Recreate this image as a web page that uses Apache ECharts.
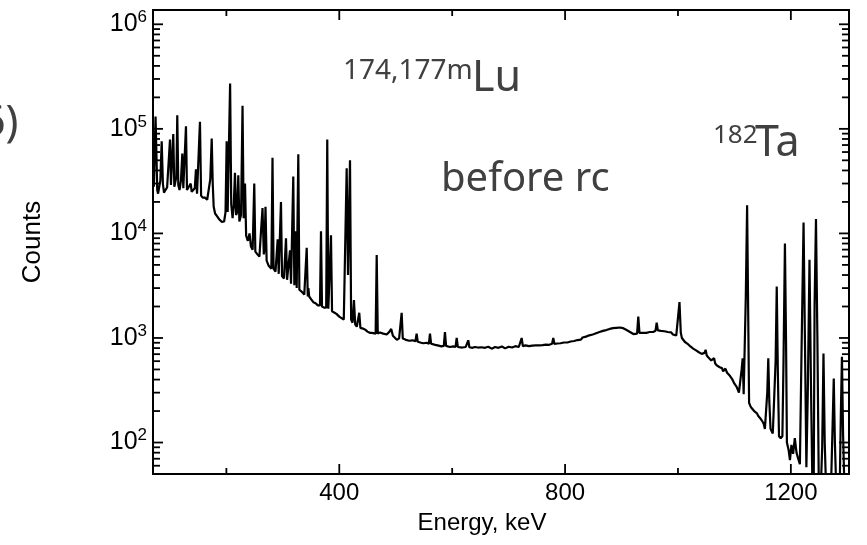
<!DOCTYPE html>
<html>
<head>
    <meta charset="utf-8">
    <title>Spectrum before rc</title>
    <script src="https://cdn.jsdelivr.net/npm/echarts@6/dist/echarts.min.js"></script>
</head>
<body style="margin:0">
<div id="main" style="width: 867px;height:545px;"></div>
<script type="text/javascript">
    // spectrum, [energy keV, counts]
    var lowRegion = [
        [70, 3.2e4], [71.5, 2.8e4], [73, 6e4], [74.5, 1.31e5], [76, 6e4], [77.5, 2.6e4], [79, 2.4e4],
        [81, 2.35e4], [83, 3.2e4], [85.4, 7.6e4], [87.5, 3.0e4], [89.5, 2.45e4], [92, 2.6e4], [95, 2.75e4],
        [98, 2.65e4], [100.1, 7.9e4], [101.8, 2.9e4], [104, 2.8e4], [105.9, 8.9e4], [107.8, 2.8e4],
        [110, 2.7e4], [111.5, 3.5e4], [113, 1.35e5], [114.8, 2.9e4], [117, 2.6e4], [119.5, 3.2e4],
        [121.9, 5.8e4], [123.7, 2.7e4], [126.5, 2.7e4], [128.4, 1.06e5], [130.2, 2.6e4], [133, 2.6e4],
        [136.8, 3.0e4], [138.6, 2.5e4], [141, 2.4e4], [144, 2.7e4], [146.1, 4.1e4], [148, 2.4e4],
        [151, 2.35e4], [153.2, 1.17e5], [155.2, 2.3e4], [158, 2.2e4], [162, 2.2e4], [166, 2.1e4],
        [169, 2.1e4], [171.5, 3.3e4], [174, 8.1e4], [175.8, 3.0e4], [177.5, 1.8e4], [180, 1.55e4],
        [184, 1.45e4], [188, 1.35e4], [192, 1.29e4], [196, 1.3e4], [198.5, 1.6e4], [200.5, 7.6e4],
        [202.3, 1.6e4], [204.5, 1.6e4], [206.6, 2.72e5], [208.6, 1.9e4], [211, 1.4e4], [213, 1.8e4],
        [215.2, 3.8e4], [217.2, 1.5e4], [219.2, 1.6e4], [221.1, 3.6e4], [223, 1.3e4], [226, 1.5e4],
        [228.6, 1.66e5], [230.6, 1.4e4], [233, 3.0e4], [235, 9.5e3], [238, 8.5e3], [241, 1.0e4],
        [243.5, 7.5e3], [246.5, 7.0e3], [249.4, 3.0e4], [251.3, 6.7e3], [255, 6.3e3], [258.5, 6.0e3]
    ];
    var midRegion = [
        [262, 6.0e3], [264, 1.75e4], [266.3, 6.3e3], [267.5, 7e3], [269.3, 1.8e4], [271.3, 5.5e3],
        [275, 4.9e3], [279.7, 4.6e3], [281.7, 5.3e4], [283.6, 4.6e3], [287, 4.3e3], [289, 4.4e3],
        [290.9, 8.8e3], [292.7, 4.1e3], [294.8, 4.1e3], [296.7, 2.0e4], [298.6, 3.9e3], [302, 3.7e3],
        [303.8, 3.8e3], [305.6, 9.0e3], [307.5, 3.6e3], [310.8, 3.5e3], [312.7, 6.9e3], [314.5, 3.3e3],
        [316.7, 3.3e3], [318.5, 3.5e4], [320.4, 3.2e3], [321.2, 3.2e3], [322.8, 1.05e4], [324.6, 3.0e3],
        [325.6, 3.0e3], [327.4, 5.7e4], [329.3, 2.9e3], [334, 2.75e3], [338, 2.6e3], [340.4, 2.6e3],
        [342.3, 7.3e3], [344.2, 2.5e3], [345.3, 3.0e3], [346.6, 2.5e3], [350, 2.35e3], [354, 2.2e3],
        [358, 2.15e3], [362, 2.05e3], [365.8, 2.05e3], [367.6, 1.05e4], [369.4, 2.0e3], [373, 1.95e3],
        [376.8, 1.95e3], [378.7, 7.9e4], [380.6, 1.9e3], [383.5, 1.85e3], [385.3, 9.6e3], [387.2, 1.8e3],
        [391, 1.75e3], [395, 1.7e3], [400, 1.6e3], [404, 1.55e3], [408, 1.5e3], [411.2, 1.5e3],
        [413.1, 4.2e4], [415.5, 4e3], [416.8, 4e3], [419, 5.0e4], [421, 1.5e3], [423.5, 1.4e3],
        [426, 2.3e3], [428.2, 1.35e3], [431, 1.28e3], [433.4, 1.3e3], [435.4, 1.74e3], [437.4, 1.25e3],
        [442, 1.23e3], [446, 1.2e3], [450, 1.15e3], [454, 1.12e3], [458, 1.12e3], [464.4, 1.1e3],
        [466.3, 6.2e3], [468.2, 1.1e3], [472, 1.13e3], [478, 1.1e3], [484, 1.08e3], [489, 1.15e3],
        [492, 1.22e3], [495, 1.05e3], [502, 960], [506, 990], [508.5, 1.0e3], [510.5, 1.74e3],
        [512.5, 990], [518, 960], [524, 940], [530, 950], [535, 930], [537, 1.1e3], [539, 920],
        [545, 900], [549, 890], [555, 900], [558.7, 880], [560.7, 1.1e3], [562.7, 880], [570, 860],
        [576, 845], [581, 830], [585.2, 840], [587.2, 1.14e3], [589.2, 840], [596, 820], [602, 830],
        [606, 820], [608, 1.0e3], [610, 820], [618, 810], [624, 820], [626.5, 815], [628.5, 950],
        [630.5, 815], [636, 805]
    ];
    var flatRegion = [
        [640, 820], [643, 795], [646, 810], [649, 785], [652, 815], [655, 795], [658, 805], [661, 785],
        [664, 825], [667, 800], [670, 790], [673, 815], [676, 820], [679, 790], [682, 805], [685, 780],
        [688, 830], [691, 805], [694, 795], [697, 820], [700, 825], [703, 800], [706, 810], [709, 830],
        [712, 835], [715, 810], [718, 820], [721, 840], [723.1, 1.0e3], [725.2, 835], [728, 815],
        [730, 850], [733, 825], [736, 835], [739, 860], [742, 845], [745, 830], [748, 850], [751, 870],
        [754, 850], [757, 875], [760, 855], [763, 880], [766, 865], [769, 890], [772, 860], [775, 885],
        [777, 880], [779.1, 1.0e3], [781.2, 875], [784, 905], [786, 885], [789, 910], [792, 890],
        [795, 920], [798, 905], [801, 935], [804, 905], [807, 945], [810, 925], [813, 960], [816, 935],
        [819, 975], [822, 955], [825, 990], [828, 965], [831, 1.01e3], [834, 985], [837, 1.03e3],
        [840, 1.0e3], [843, 1.06e3], [846, 1.04e3], [849, 1.08e3], [852, 1.06e3], [855, 1.11e3],
        [858, 1.09e3], [861, 1.14e3], [864, 1.11e3], [867, 1.17e3], [870, 1.15e3], [873, 1.19e3],
        [876, 1.17e3], [879, 1.22e3], [882, 1.2e3], [885, 1.24e3], [888, 1.21e3], [891, 1.25e3],
        [894, 1.23e3], [897, 1.26e3], [900, 1.22e3], [903, 1.24e3], [906, 1.2e3], [909, 1.19e3],
        [912, 1.16e3], [915, 1.14e3], [918, 1.12e3], [921, 1.09e3], [924, 1.11e3], [927.6, 1.1e3],
        [929.7, 1.6e3], [931.8, 1.12e3], [935, 1.15e3], [938, 1.12e3], [941, 1.16e3], [944, 1.12e3],
        [947, 1.17e3], [950, 1.14e3], [953, 1.18e3], [956, 1.14e3], [960.2, 1.17e3], [962.3, 1.4e3],
        [964.4, 1.18e3], [967, 1.14e3], [970, 1.17e3], [973, 1.13e3], [976, 1.16e3], [979, 1.12e3],
        [982, 1.14e3], [985, 1.1e3], [988, 1.13e3], [991, 1.08e3], [994, 1.1e3], [997, 1.06e3],
        [999.5, 1.1e3], [1002.7, 2.2e3], [1005, 1.12e3], [1007, 1.0e3], [1009, 960], [1012, 920],
        [1014, 900], [1017, 880], [1019, 860], [1022, 830], [1024, 800], [1027, 790], [1029, 760],
        [1032, 760], [1034, 735], [1037, 730], [1039, 710], [1042, 705], [1044, 680], [1047, 720],
        [1049, 770], [1051, 680], [1054, 650], [1056, 630], [1059, 610], [1061, 600], [1064, 640],
        [1066, 570], [1069, 545], [1071, 530], [1074, 525], [1076, 505], [1078, 515], [1080, 480],
        [1082, 500], [1084, 510], [1087, 465], [1090, 450], [1092, 435], [1094, 420], [1096, 405],
        [1098, 390], [1100, 365], [1102, 355], [1104, 340], [1106, 320], [1108, 300], [1111, 290]
    ];
    var taRegion = [
        [1112.8, 500], [1114.6, 640], [1116.4, 290], [1118.5, 280], [1120.2, 2500], [1122.5, 1.86e4],
        [1124.3, 2000], [1126, 240], [1128, 225], [1130, 215], [1133, 220], [1135, 200], [1138, 195],
        [1140, 190], [1142, 180], [1144, 185], [1146, 170], [1148, 172], [1150, 158], [1152, 150],
        [1154, 135], [1156.5, 130], [1158.2, 300], [1160, 640], [1161.8, 250], [1164, 135],
        [1166, 128], [1168, 122], [1171, 120], [1173, 600], [1175, 3100], [1177, 450], [1179, 115],
        [1182, 110], [1185, 115], [1187, 600], [1189.5, 8000], [1191.5, 900], [1193, 100], [1196, 85],
        [1198.4, 68], [1201, 95], [1204, 78], [1207, 110], [1210, 80], [1213, 70], [1216, 62], [1219, 800],
        [1222.5, 1.27e4], [1225, 900], [1227.5, 58], [1230, 300], [1233, 5600], [1235.5, 400],
        [1238, 45], [1240.5, 40], [1242, 2000], [1244.5, 1.37e4], [1247, 1000], [1249.5, 40],
        [1253, 35], [1255.5, 90], [1257.8, 710], [1260, 100], [1262.5, 35], [1271, 35], [1274, 150],
        [1276, 410], [1278, 100], [1280.5, 35], [1286.5, 35], [1288.5, 180], [1290.5, 660],
        [1292.5, 120], [1295, 35], [1303, 35]
    ];
    var spectrum = lowRegion.concat(midRegion, flatRegion, taRegion);

    var xMin = 70, xMax = 1303;
    var yMin = 50, yMax = 1.37e6;
    var xLabels = [400, 800, 1200];
    var xMajorTicks = [400, 800, 1200];
    var xMinorTicks = [200, 600, 1000];
    var yMajorTicks = [100, 1e3, 1e4, 1e5, 1e6];

    // tick marks on all four sides, pointing inwards: [x, y, direction, length]
    var tickData = [];
    xMajorTicks.forEach(function (v) { tickData.push([v, 100, 0, 10]); });
    xMinorTicks.forEach(function (v) { tickData.push([v, 100, 0, 6]); });
    yMajorTicks.forEach(function (v) { tickData.push([xMin, v, 1, 10]); });
    [10, 100, 1000, 10000, 100000].forEach(function (d) {
        for (var m = 2; m <= 9; m++) {
            if (m * d > yMin && m * d < yMax) tickData.push([xMin, m * d, 1, 7]);
        }
    });

    function renderTick(params, api) {
        var cs = params.coordSys;
        var len = api.value(3);
        var st = {stroke: '#000', lineWidth: 1.8};
        if (api.value(2) === 1) {
            var y = api.coord([xMin, api.value(1)])[1];
            return {type: 'group', children: [
                {type: 'line', shape: {x1: cs.x, y1: y, x2: cs.x + len, y2: y}, style: st},
                {type: 'line', shape: {x1: cs.x + cs.width - len, y1: y, x2: cs.x + cs.width, y2: y}, style: st}
            ]};
        }
        var x = api.coord([api.value(0), 100])[0];
        return {type: 'group', children: [
            {type: 'line', shape: {x1: x, y1: cs.y + cs.height, x2: x, y2: cs.y + cs.height - len}, style: st},
            {type: 'line', shape: {x1: x, y1: cs.y, x2: x, y2: cs.y + len}, style: st}
        ]};
    }

    var myChart = echarts.init(document.getElementById('main'));
    var axisFont = 'Liberation Sans';
    var noteColor = '#404040';
    var option = {
        animation: false,
        backgroundColor: '#fff',
        grid: {
            left: 153, top: 10, width: 696, height: 464,
            show: true, borderColor: '#000', borderWidth: 2
        },
        xAxis: {
            type: 'value',
            min: xMin, max: xMax,
            interval: 10,
            name: 'Energy, keV',
            nameLocation: 'middle',
            nameGap: 37,
            nameTextStyle: {fontSize: 24, fontFamily: axisFont, color: '#000', padding: [0, 38, 0, 0]},
            axisLine: {show: false},
            axisTick: {show: false},
            splitLine: {show: false},
            axisLabel: {
                interval: 0,
                margin: 7,
                fontSize: 24, fontFamily: axisFont, color: '#000',
                formatter: function (v) { return xLabels.indexOf(v) >= 0 ? String(v) : ''; }
            }
        },
        yAxis: {
            type: 'log',
            logBase: 10,
            min: yMin, max: yMax,
            name: 'Counts',
            nameLocation: 'middle',
            nameRotate: 90,
            nameGap: 107,
            nameTextStyle: {fontSize: 26, fontFamily: axisFont, color: '#000'},
            axisLine: {show: false},
            axisTick: {show: false},
            splitLine: {show: false},
            axisLabel: {
                margin: 6,
                showMinLabel: false,
                showMaxLabel: false,
                formatter: function (v) {
                    var e = Math.round(Math.log10(v));
                    if (Math.abs(v / Math.pow(10, e) - 1) > 1e-6) return '';
                    return '{b|10}{e|' + e + '}';
                },
                rich: {
                    b: {fontSize: 25, fontFamily: axisFont, color: '#000', lineHeight: 31},
                    e: {fontSize: 17, fontFamily: axisFont, color: '#000', verticalAlign: 'top'}
                }
            }
        },
        graphic: [
            {type: 'text', left: -19, top: 102, style: {text: '6)', font: '43px "Noto Sans"', fill: noteColor}},
            {type: 'text', left: 343, top: 57, style: {text: '174,177m', font: '28px "Noto Sans"', fill: noteColor}},
            {type: 'text', left: 472, top: 57, style: {text: 'Lu', font: '43px "Noto Sans"', fill: noteColor}},
            {type: 'text', left: 441, top: 160, style: {text: 'before rc', font: '40px "Noto Sans"', fill: noteColor}},
            {type: 'text', left: 713, top: 123, style: {text: '182', font: '26px "Noto Sans"', fill: noteColor}},
            {type: 'text', left: 755, top: 122, style: {text: 'Ta', font: '43px "Noto Sans"', fill: noteColor}}
        ],
        series: [
            {
                name: 'spectrum',
                type: 'line',
                data: spectrum,
                showSymbol: false,
                sampling: 'none',
                clip: true,
                lineStyle: {color: '#000', width: 2.2},
                z: 3
            },
            {
                name: 'ticks',
                type: 'custom',
                data: tickData,
                renderItem: renderTick,
                encode: {x: 0, y: 1},
                silent: true,
                clip: false,
                z: 4
            }
        ]
    };
    myChart.setOption(option);
</script>
</body>
</html>
